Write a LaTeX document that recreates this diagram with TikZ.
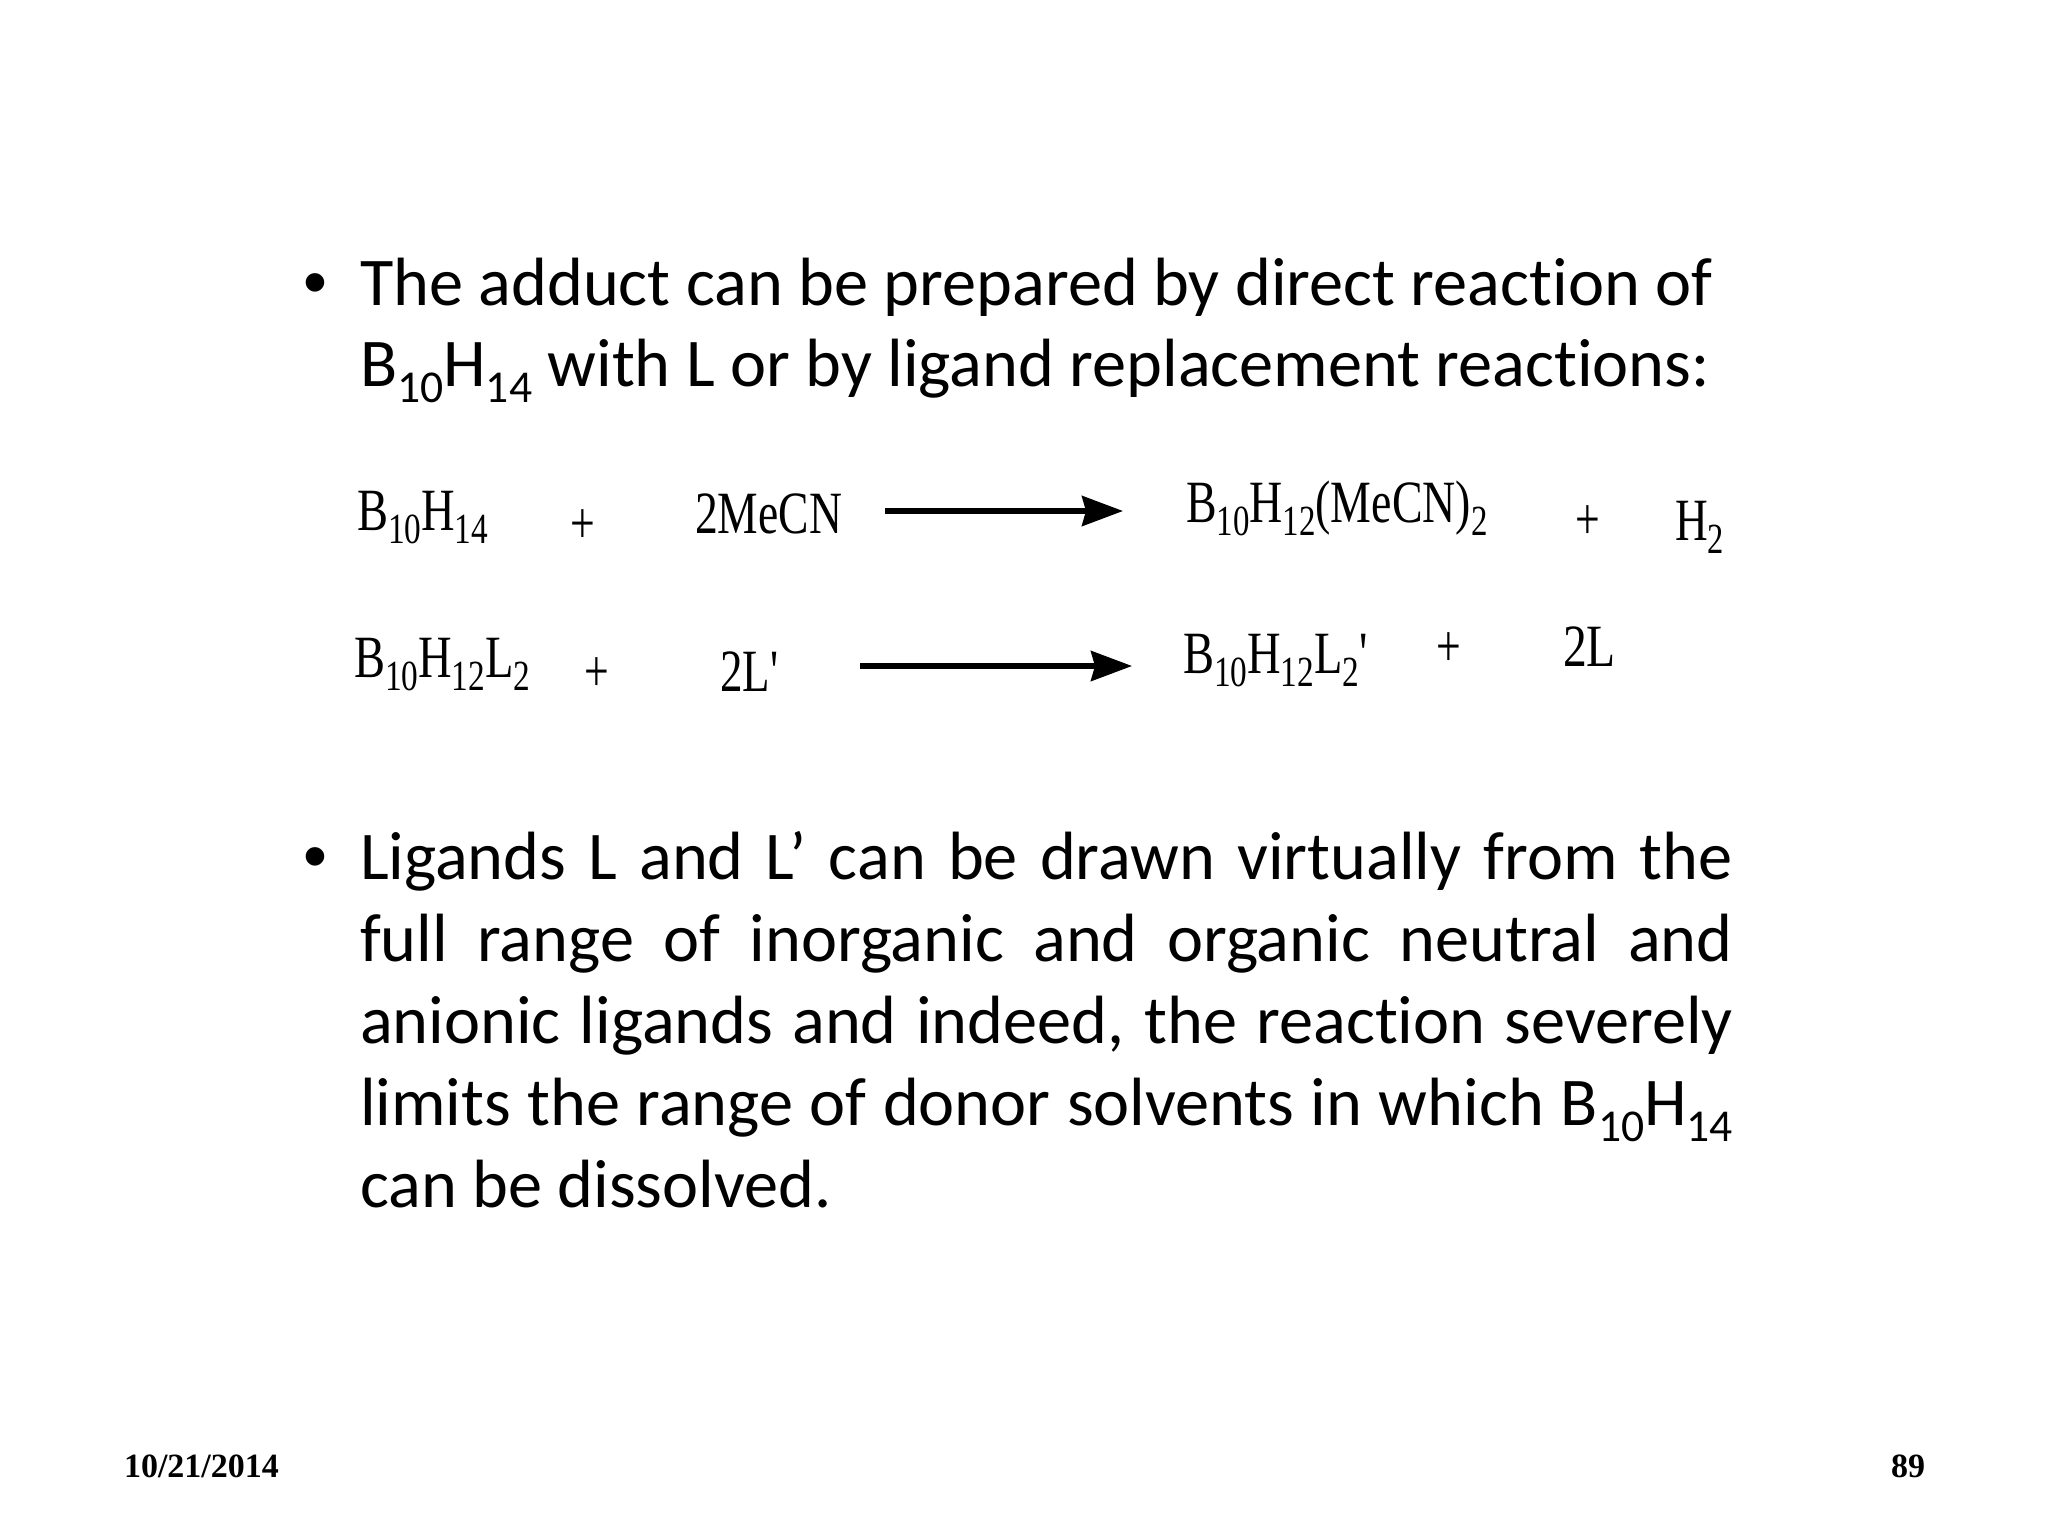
\documentclass[tikz,border=0pt]{standalone}
\usepackage{fontspec}
\setmainfont{Carlito}[Ligatures=NoCommon]
\newfontfamily\timesf{Liberation Serif}
\newfontfamily\bulf{Liberation Sans}
\usetikzlibrary{arrows.meta}
\newcommand{\sbs}[1]{\raisebox{-6.5pt}{\fontsize{21.5}{21.5}\selectfont #1}}
\newcommand{\tsb}[1]{\raisebox{-8pt}{\fontsize{22.8}{22.8}\selectfont #1}}
\newcommand{\rx}[2]{\scalebox{#1}[1]{\fontsize{30}{35}\timesf #2}}
\newcommand{\jl}[1]{\makebox[686.5pt][s]{#1}}
\tikzset{
 lbl/.style={anchor=base west,inner sep=0pt,outer sep=0pt},
 body/.style={lbl,font=\fontsize{34.15}{40}\selectfont},
 bull/.style={lbl,font=\fontsize{34.15}{40}\bulf},
 foot/.style={lbl,font=\fontsize{17}{20}\timesf\bfseries},
 rarrow/.style={line width=2.6pt,-{Stealth[length=20.5pt,width=15pt,inset=2pt]}}
}
\begin{document}
\begin{tikzpicture}[x=0.5pt,y=-0.5pt]
\path[use as bounding box,fill=white] (0,0) rectangle (2048,1536);
\node[bull] (b1) at (303,305) {•};
\node[body] (t1) at (360,305) {The adduct can be prepared by direct reaction of};
\node[body] (t2) at (360,386) {B\tsb{10}H\tsb{14} with L or by ligand replacement reactions:};
\node[lbl] (r1a) at (357,530) {\rx{.775}{B\sbs{10}H\sbs{14}}};
\node[lbl] (r1p) at (570,543) {\rx{.73}{+}};
\node[lbl] (r1b) at (695,533) {\rx{.76}{2MeCN}};
\coordinate (a1s) at (885,511);
\coordinate (a1e) at (1123,511);
\draw[rarrow] (a1s) -- (a1e);
\node[lbl] (r1c) at (1186,522) {\rx{.765}{B\sbs{10}H\sbs{12}(MeCN)\sbs{2}}};
\node[lbl] (r1q) at (1575,539) {\rx{.73}{+}};
\node[lbl] (r1d) at (1675,540) {\rx{.755}{H\sbs{2}}};
\node[lbl] (r2a) at (354,677) {\rx{.775}{B\sbs{10}H\sbs{12}L\sbs{2}}};
\node[lbl] (r2p) at (584,691) {\rx{.73}{+}};
\node[lbl] (r2b) at (720,691) {\rx{.75}{2L'}};
\coordinate (a2s) at (860,666);
\coordinate (a2e) at (1132,666);
\draw[rarrow] (a2s) -- (a2e);
\node[lbl] (r2c) at (1183,673) {\rx{.775}{B\sbs{10}H\sbs{12}L\sbs{2}'}};
\node[lbl] (r2q) at (1436,666) {\rx{.73}{+}};
\node[lbl] (r2d) at (1563,666) {\rx{.793}{2L}};
\node[bull] (b2) at (303,879) {•};
\node[body] (p1) at (360,879) {\jl{Ligands L and L’ can be drawn virtually from the}};
\node[body] (p2) at (360,961) {\jl{full range of inorganic and organic neutral and}};
\node[body] (p3) at (360,1043) {\jl{anionic ligands and indeed, the reaction severely}};
\node[body] (p4) at (360,1125) {\jl{limits the range of donor solvents in which B\tsb{10}H\tsb{14}}};
\node[body] (p5) at (360,1207) {can be dissolved.};
\node[foot] (f1) at (124,1477) {10/21/2014};
\node[foot] (f2) at (1891,1477) {89};
\end{tikzpicture}
\end{document}
